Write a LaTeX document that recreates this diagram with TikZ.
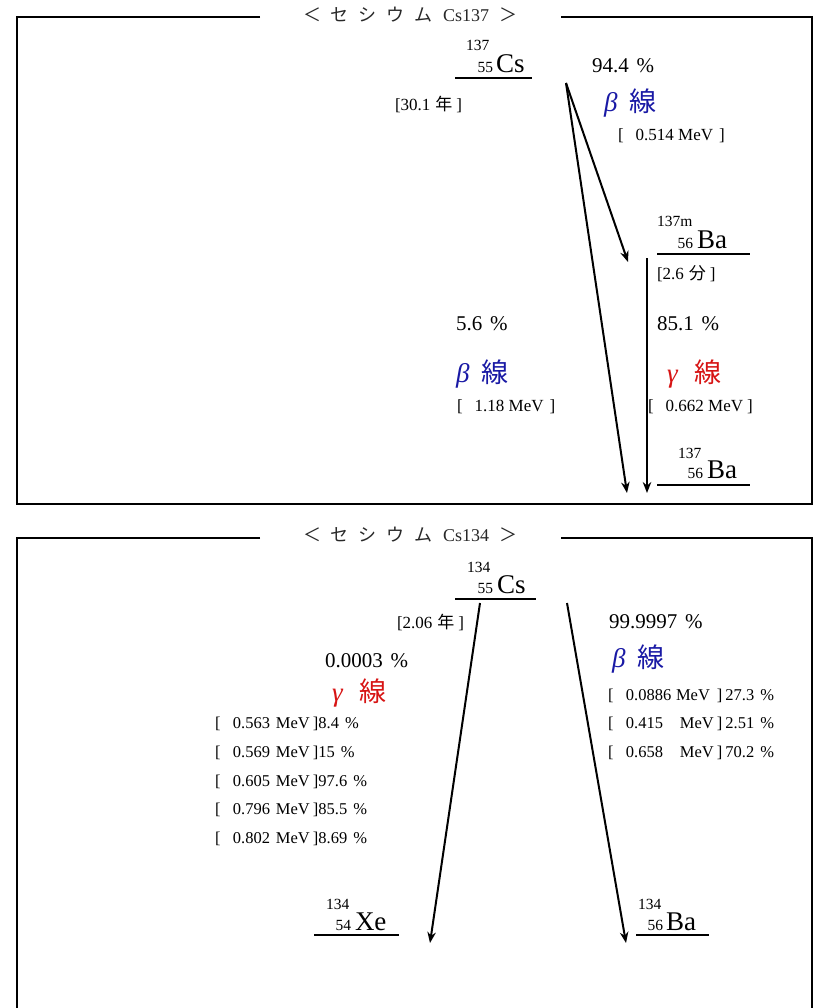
\documentclass[tikz,border=0pt]{standalone}
\usepackage{fontspec}
\setmainfont{Liberation Serif}
\newfontfamily\jp{Noto Sans CJK JP}
\usetikzlibrary{arrows.meta}
\definecolor{betablue}{RGB}{25,25,165}
\definecolor{gammared}{RGB}{215,20,20}
\definecolor{titlegray}{RGB}{40,40,40}
\newcommand{\grow}[2]{\makebox[98pt][l]{\makebox[18pt][l]{[}\makebox[43pt][l]{#1}MeV}]#2\hspace{6pt}\%}
\newcommand{\brow}[3]{\makebox[109pt][l]{\makebox[18pt][l]{[}\makebox[#1][l]{#2}MeV}]\hspace{3pt}#3\hspace{6pt}\%}
\newcommand{\ttltext}[1]{{\jp ＜}\hspace{10pt}{\jp セ}\hspace{10pt}{\jp シ}\hspace{10pt}{\jp ウ}\hspace{10pt}{\jp ム}\hspace{10pt}Cs#1\hspace{10pt}{\jp ＞}}
\begin{document}
\begin{tikzpicture}[x=1pt,y=-1pt,
  every node/.style={inner sep=0pt,outer sep=0pt},
  frame/.style={line width=2.6pt,line join=miter},
  lvlthick/.style={line width=2.6pt},
  lvlthin/.style={line width=1.3pt},
  decay/.style={line width=2pt,-{Stealth[length=11pt,width=8.5pt]}},
  ttl/.style={font=\fontsize{18}{20}\selectfont,text=titlegray},
  pct/.style={anchor=base west,font=\fontsize{21}{24}\selectfont},
  note/.style={anchor=base west,font=\fontsize{17}{19}\selectfont},
  lst/.style={anchor=base west,font=\fontsize{16.5}{19}\selectfont},
  ray/.style={anchor=base west,font=\fontsize{27}{30}\selectfont},
  sym/.style={anchor=base west,font=\fontsize{27}{30}\selectfont},
  zidx/.style={anchor=base east,font=\fontsize{15.5}{17}\selectfont},
  aidx/.style={anchor=base west,font=\fontsize{15.5}{17}\selectfont},
]
\useasboundingbox (0,0) rectangle (814,1008);
\fill[white] (0,0) rectangle (814,1008);

% ---------------- Cs137 frame ----------------
\draw[frame] (260,17) -- (17,17) -- (17,504) -- (812,504) -- (812,17) -- (561,17);
\node[ttl] (t1) at (410,15) {\ttltext{137}};

% Cs137 level
\node[sym]  (cs7)  at (496,73) {Cs};
\node[zidx] (cs7z) at (493,73) {55};
\node[aidx] (cs7a) at (466,51) {137};
\draw[lvlthick] (455,78) -- (532,78);
\node[note] (cs7t) at (395,111) {[30.1\hspace{5pt}{\jp 年}\hspace{4pt}]};

% Ba137m level
\node[sym]  (bam)  at (697,248) {Ba};
\node[zidx] (bamz) at (693,248) {56};
\node[aidx] (bama) at (657,227) {137m};
\draw[lvlthin] (657,254) -- (750,254);
\node[note] (bamt) at (657,279) {[2.6\hspace{5pt}{\jp 分}\hspace{4pt}]};

% Ba137 level
\node[sym]  (ba7)  at (707,478) {Ba};
\node[zidx] (ba7z) at (703,478) {56};
\node[aidx] (ba7a) at (678,458) {137};
\draw[lvlthick] (657,485) -- (750,485);

% branch labels
\node[pct] (p944) at (592,73) {94.4\hspace{8pt}\%};
\node[ray,text=betablue] (b1) at (604,112) {\textit{β}\hspace{12pt}{\jp 線}};
\node[note] (e1) at (618,141) {[\hspace{12pt}0.514 MeV\hspace{6pt}]};

\node[pct] (p56) at (456,330) {5.6\hspace{8pt}\%};
\node[ray,text=betablue] (b2) at (456,382) {\textit{β}\hspace{12pt}{\jp 線}};
\node[note] (e2) at (457,411) {[\hspace{12pt}1.18 MeV\hspace{6pt}]};

\node[pct] (p851) at (657,330) {85.1\hspace{8pt}\%};
\node[ray,text=gammared] (g1) at (667,382) {\textit{γ}\hspace{16pt}{\jp 線}};
\node[note] (e3) at (648,411) {[\hspace{12pt}0.662 MeV\hspace{4pt}]};

% decay arrows
\coordinate (s1) at (566,83);
\coordinate (m1) at (628,262);
\coordinate (g1s) at (647,258);
\coordinate (g1e) at (647,493);
\coordinate (f1) at (627,493);
\draw[decay] (s1) -- (m1);
\draw[decay] (s1) -- (f1);
\draw[decay] (g1s) -- (g1e);

% ---------------- Cs134 frame ----------------
\draw[frame] (260,538) -- (17,538) -- (17,1012);
\draw[frame] (561,538) -- (812,538) -- (812,1012);
\node[ttl] (t2) at (410,535) {\ttltext{134}};

% Cs134 level
\node[sym]  (cs4)  at (497,593) {Cs};
\node[zidx] (cs4z) at (493,593) {55};
\node[aidx] (cs4a) at (467,572) {134};
\draw[lvlthick] (455,599) -- (536,599);
\node[note] (cs4t) at (397,628) {[2.06\hspace{5pt}{\jp 年}\hspace{4pt}]};

% Xe134
\node[sym]  (xe)  at (355,930) {Xe};
\node[zidx] (xez) at (351,930) {54};
\node[aidx] (xea) at (326,909) {134};
\draw[lvlthick] (314,935) -- (399,935);

% Ba134
\node[sym]  (ba4)  at (666,930) {Ba};
\node[zidx] (ba4z) at (663,930) {56};
\node[aidx] (ba4a) at (638,909) {134};
\draw[lvlthick] (636,935) -- (709,935);

% gamma branch
\node[pct] (p3) at (325,667) {0.0003\hspace{8pt}\%};
\node[ray,text=gammared] (g2) at (332,701) {\textit{γ}\hspace{16pt}{\jp 線}};
\node[lst] (gr1) at (215,728) {\grow{0.563}{8.4}};
\node[lst] (gr2) at (215,757) {\grow{0.569}{15}};
\node[lst] (gr3) at (215,786) {\grow{0.605}{97.6}};
\node[lst] (gr4) at (215,814) {\grow{0.796}{85.5}};
\node[lst] (gr5) at (215,843) {\grow{0.802}{8.69}};

% beta branch
\node[pct] (p99) at (609,628) {99.9997\hspace{8pt}\%};
\node[ray,text=betablue] (b3) at (612,667) {\textit{β}\hspace{12pt}{\jp 線}};
\node[lst] (br1) at (608,700) {\brow{50pt}{0.0886}{27.3}};
\node[lst] (br2) at (608,728) {\brow{54pt}{0.415}{2.51}};
\node[lst] (br3) at (608,757) {\brow{54pt}{0.658}{70.2}};

\coordinate (s2a) at (480,603);
\coordinate (s2b) at (567,603);
\coordinate (xe1) at (430,943);
\coordinate (ba1) at (626,943);
\draw[decay] (s2a) -- (xe1);
\draw[decay] (s2b) -- (ba1);
\end{tikzpicture}
\end{document}
